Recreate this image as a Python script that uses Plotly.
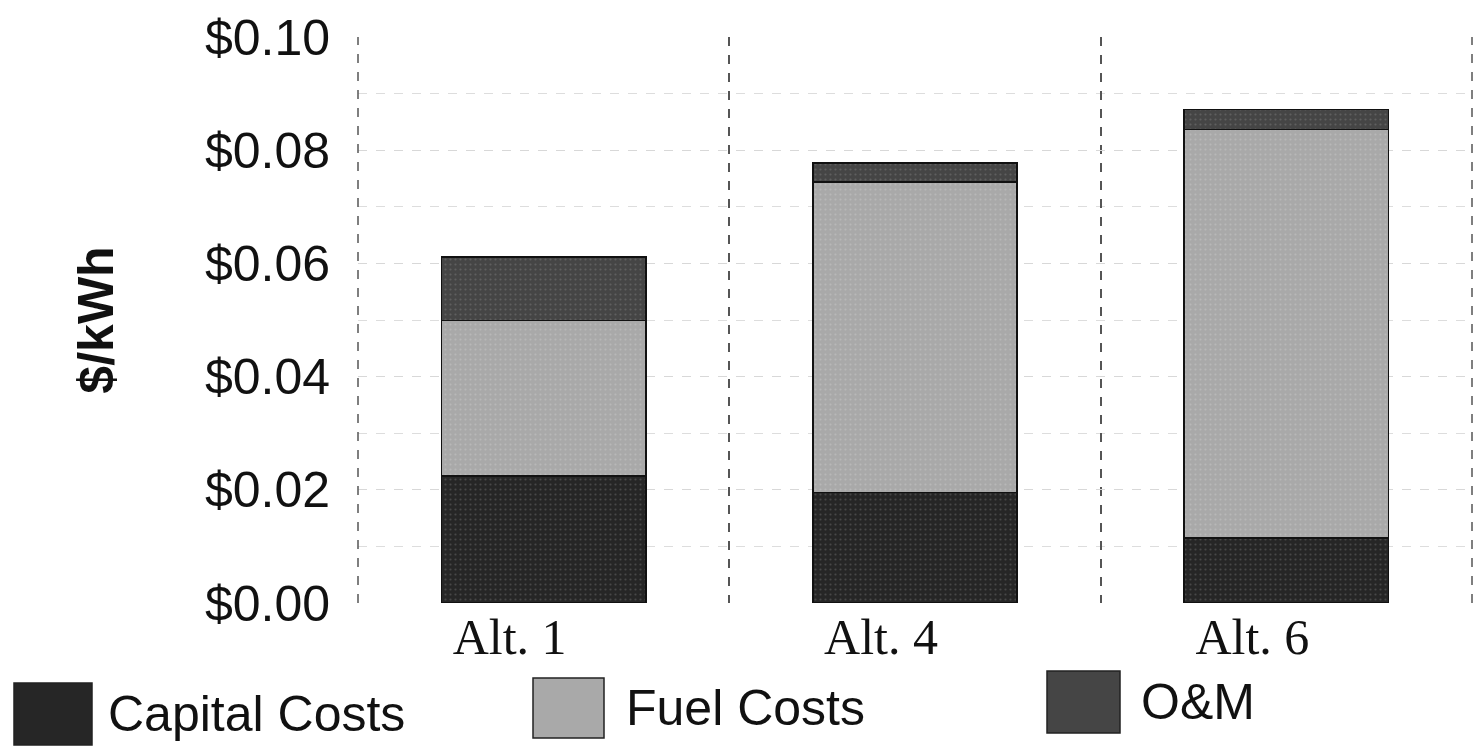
import plotly.graph_objects as go

categories = ["Alt. 1", "Alt. 4", "Alt. 6"]
capital = [0.0224, 0.0195, 0.0115]
fuel = [0.0275, 0.0549, 0.0722]
om = [0.0112, 0.0033, 0.0035]
y_ticks = [0.00, 0.02, 0.04, 0.06, 0.08, 0.10]
y_tick_text = ["$0.00", "$0.02", "$0.04", "$0.06", "$0.08", "$0.10"]

# page body has an 8px margin, so the figure is drawn smaller and offset
OFF = 8
W, H = 1481 - 2 * OFF, 755 - 2 * OFF
# plot box in screen pixels: x 358..1472, y 37..603
L, R, T, B = 358 - OFF, W - (1472 - OFF), 37 - OFF, H - (603 - OFF)


def px(x):
    return (x - OFF - L) / (W - L - R)


def py(y):
    return (H - B - (y - OFF)) / (H - T - B)


series = [
    ("Capital Costs", capital, "#262626", "#6a6a6a"),
    ("Fuel Costs", fuel, "#a9a9a9", "#c8c8c8"),
    ("O&M", om, "#454545", "#7a7a7a"),
]

fig = go.Figure()
for name, vals, col, speck in series:
    fig.add_trace(go.Bar(
        x=categories, y=vals, name=name, width=0.55,
        marker=dict(color=col, line=dict(color="#111", width=1.5),
                    pattern=dict(shape=".", fillmode="overlay", fgcolor=speck, size=5, solidity=0.15)),
    ))

# dashed frame lines at both plot edges
for xe in (0, 1):
    fig.add_shape(type="line", xref="paper", yref="paper", x0=xe, x1=xe, y0=0, y1=1,
                  line=dict(color="#555", width=1.5, dash="dash"))

# hand-drawn legend with large swatches (screen pixel positions)
legend_pos = [(14, 92, 683, 745, 107), (533, 604, 678, 738, 625), (1047, 1120, 671, 733, 1140)]
for (name, vals, col, speck), (x0, x1, y0, y1, tx) in zip(series, legend_pos):
    fig.add_shape(type="rect", xref="paper", yref="paper",
                  x0=px(x0), x1=px(x1), y0=py(y1), y1=py(y0),
                  fillcolor=col, line=dict(color="#222", width=1.5))
    fig.add_annotation(text=name, xref="paper", yref="paper", x=px(tx), y=py((y0 + y1) / 2),
                       xanchor="left", yanchor="middle", showarrow=False, borderpad=0,
                       font=dict(family="Liberation Sans, Arial", size=50, color="#111"))

fig.update_layout(
    barmode="stack",
    width=W, height=H,
    margin=dict(l=L, r=R, t=T, b=B, autoexpand=False),
    plot_bgcolor="white", paper_bgcolor="white",
    showlegend=False,
)
fig.update_xaxes(
    range=[-0.5, 2.5], tickson="boundaries", showgrid=True, griddash="dash",
    gridcolor="#555", gridwidth=1.5, automargin=False,
    ticks="outside", ticklen=16, tickcolor="rgba(0,0,0,0)", ticklabelshift=-34,
    tickfont=dict(family="Liberation Serif, Times New Roman", size=50, color="#111"),
    showline=False, zeroline=False,
)
fig.update_yaxes(
    range=[0, 0.1], tickvals=y_ticks, ticktext=y_tick_text, automargin=False,
    tickfont=dict(family="Liberation Sans, Arial", size=50, color="#111"),
    ticks="outside", ticklen=17, tickcolor="rgba(0,0,0,0)",
    showgrid=True, griddash="dash", gridcolor="#d8d8d8", gridwidth=1,
    minor=dict(dtick=0.01, showgrid=True, griddash="dash", gridcolor="#dddddd", gridwidth=1),
    showline=False, zeroline=False,
    title=dict(text="<b>$/kWh</b>", standoff=75,
               font=dict(family="Liberation Sans, Arial", size=50, color="#111")),
)

fig.write_html("out.html")
